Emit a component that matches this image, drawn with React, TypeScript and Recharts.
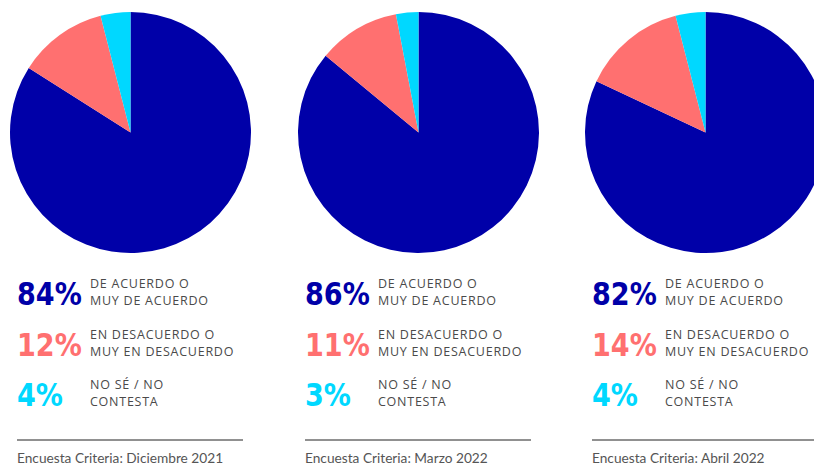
import React from 'react';
import { PieChart, Pie, Cell } from 'recharts';

const categories = ['DE ACUERDO O|MUY DE ACUERDO', 'EN DESACUERDO O|MUY EN DESACUERDO', 'NO SÉ / NO|CONTESTA'];
const diciembre2021 = [84, 12, 4];
const marzo2022 = [86, 11, 3];
const abril2022 = [82, 14, 4];
const sources = ['Encuesta Criteria: Diciembre 2021', 'Encuesta Criteria: Marzo 2022', 'Encuesta Criteria: Abril 2022'];

const COLORS = ['#0000a8', '#ff7070', '#00d8ff'];
const PANEL_X = [0, 288, 575];
const ROW_BASE = [305, 356, 406];

const surveys = [diciembre2021, marzo2022, abril2022];

const App: React.FC = () => {
  return (
    <div style={{ position: 'absolute', left: 0, top: 0, width: 814, height: 466, overflow: 'hidden', background: '#fff' }}>
      <PieChart width={814} height={466} margin={{ top: 0, right: 0, bottom: 0, left: 0 }}
        style={{ position: 'absolute', left: 0, top: 0 }}>
        {surveys.map((values, i) => (
          <Pie
            key={i}
            data={values.map((v, j) => ({ name: categories[j], value: v }))}
            dataKey="value"
            cx={130.5 + PANEL_X[i]}
            cy={132.5}
            outerRadius={120.5}
            startAngle={90}
            endAngle={-270}
            stroke="none"
            isAnimationActive={false}
          >
            {values.map((_, j) => (
              <Cell key={`cell-${j}`} fill={COLORS[j]} />
            ))}
          </Pie>
        ))}
      </PieChart>
      <svg width={814} height={466} style={{ position: 'absolute', left: 0, top: 0 }}>
        {surveys.map((values, i) => (
          <g key={i} transform={`translate(${PANEL_X[i]},0)`}>
            {values.map((v, j) => {
              const [l1, l2] = categories[j].split('|');
              return (
                <g key={j}>
                  <text transform={`translate(17,${ROW_BASE[j]}) scale(0.94,1)`} fill={COLORS[j]} fontSize={32} fontWeight="bold"
                    fontFamily="'DejaVu Sans Condensed', 'DejaVu Sans', sans-serif" style={{ fontStretch: 'condensed' }}>{v}%</text>
                  <text x={90} y={ROW_BASE[j] - 17} fill="#4a4a4a" fontSize={12.5} letterSpacing={0.75}
                    fontFamily="'Open Sans', sans-serif">{l1}</text>
                  <text x={90} y={ROW_BASE[j]} fill="#4a4a4a" fontSize={12.5} letterSpacing={0.75}
                    fontFamily="'Open Sans', sans-serif">{l2}</text>
                </g>
              );
            })}
            <line x1={17} x2={243} y1={440} y2={440} stroke="#222" strokeWidth={1} />
            <text x={17} y={463} fill="#555" fontSize={13.7} fontFamily="Lato, sans-serif">{sources[i]}</text>
          </g>
        ))}
      </svg>
    </div>
  );
};

export default App;
